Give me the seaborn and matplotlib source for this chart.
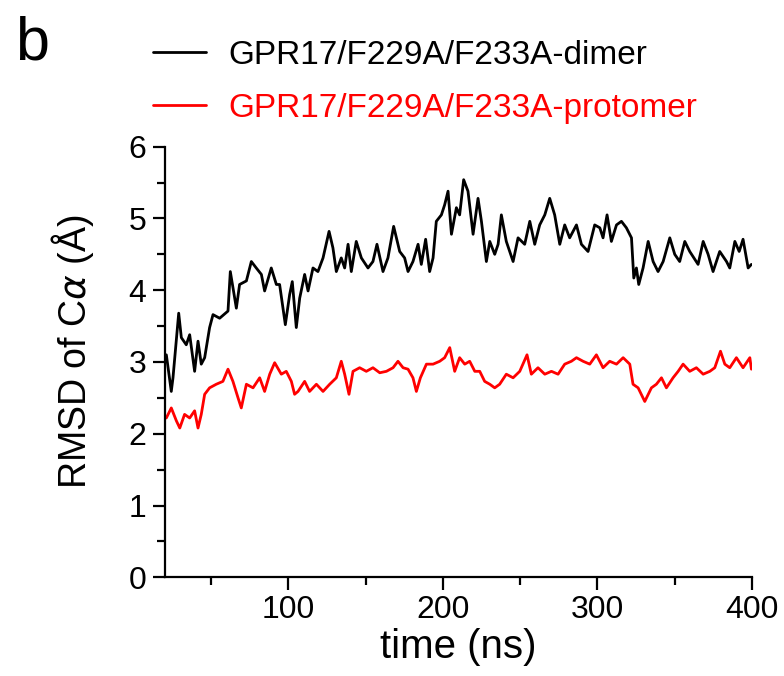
import numpy as np
import pandas as pd
import seaborn as sns
import matplotlib
matplotlib.use('Agg')
import matplotlib.pylab as plt
from matplotlib.ticker import MultipleLocator, FixedLocator

# values (time in ns, RMSD in Angstrom)
time_dimer = [21.1, 24.3, 25.4, 29.1, 30.8, 34.0, 36.2, 39.4, 41.6, 43.7, 45.9, 49.1, 51.3,
              55.6, 61.0, 62.5, 66.4, 68.5, 72.9, 76.1, 79.3, 82.6, 84.7, 89.0, 92.3, 94.4,
              98.1, 100.9, 102.6, 105.2, 107.4, 110.6, 112.8, 116.0, 119.2, 122.5, 126.4,
              128.9, 131.1, 134.3, 136.5, 138.7, 140.8, 144.0, 147.3, 151.6, 154.8, 157.4,
              161.3, 164.5, 168.2, 172.1, 175.3, 177.5, 180.7, 184.0, 186.1, 188.9, 191.5,
              193.7, 195.8, 199.1, 201.2, 203.4, 205.6, 208.8, 210.9, 213.5, 216.3, 219.6,
              222.8, 225.0, 228.2, 230.4, 233.6, 235.8, 237.9, 241.1, 245.5, 248.7, 253.0,
              256.3, 259.5, 262.7, 266.0, 269.2, 272.4, 275.7, 278.9, 282.1, 286.5, 289.7,
              294.0, 297.2, 298.3, 301.6, 303.7, 306.3, 309.1, 312.4, 315.6, 318.8, 322.1,
              323.6, 325.3, 326.8, 329.6, 332.9, 336.1, 339.3, 342.6, 346.9, 350.1, 353.3,
              356.6, 359.8, 365.2, 368.5, 371.7, 374.9, 379.2, 383.6, 385.7, 389.0, 391.8,
              394.3, 397.6, 399.7]
rmsd_dimer = [3.10, 2.59, 2.78, 3.68, 3.34, 3.24, 3.38, 2.87, 3.29, 2.97, 3.06, 3.48, 3.66,
              3.61, 3.71, 4.26, 3.75, 4.08, 4.13, 4.40, 4.31, 4.22, 3.99, 4.31, 4.08, 4.08,
              3.52, 3.94, 4.12, 3.48, 3.89, 4.22, 3.99, 4.31, 4.26, 4.45, 4.82,
              4.59, 4.26, 4.45, 4.31, 4.64, 4.26, 4.68, 4.45, 4.31, 4.40, 4.64,
              4.26, 4.45, 4.89, 4.54, 4.45, 4.26, 4.40, 4.64, 4.36, 4.71, 4.26,
              4.45, 4.96, 5.05, 5.19, 5.38, 4.78, 5.15, 5.05, 5.54, 5.38, 4.78,
              5.28, 4.96, 4.40, 4.68, 4.50, 4.64, 5.05, 4.68, 4.40, 4.73, 4.64,
              4.96, 4.64, 4.91, 5.05, 5.28, 5.05, 4.64, 4.91, 4.73, 4.91, 4.64,
              4.54, 4.82, 4.91, 4.87, 4.73, 5.05, 4.68, 4.91, 4.96, 4.87, 4.73,
              4.17, 4.31, 4.08, 4.31, 4.68, 4.40, 4.26, 4.40, 4.73, 4.50, 4.40,
              4.68, 4.54, 4.36, 4.68, 4.50, 4.26, 4.54, 4.40, 4.31, 4.68, 4.54,
              4.71, 4.31, 4.36]

time_protomer = [21.1, 24.3, 27.6, 29.8, 32.9, 36.2, 39.4, 41.6, 43.7, 45.9, 49.1, 53.4, 57.7,
                 61.0, 64.2, 67.5, 69.6, 72.9, 77.2, 81.5, 84.7, 88.0, 91.2, 95.5, 98.7,
                 102.0, 104.1, 106.3, 110.6, 113.8, 118.2, 122.5, 126.8, 131.1, 134.3, 136.5,
                 139.3, 141.9, 146.2, 150.5, 154.8, 159.2, 163.5, 167.8, 171.0, 174.3, 177.5,
                 180.7, 182.9, 185.5, 189.4, 193.7, 198.0, 201.2, 204.5, 207.7, 210.9, 214.2,
                 217.4, 220.7, 223.9, 227.1, 230.4, 233.6, 236.8, 241.1, 245.5, 249.8, 254.5,
                 257.3, 261.6, 266.0, 270.3, 274.6, 278.9, 283.2, 286.5, 290.8, 295.1, 299.4,
                 303.7, 308.0, 312.4, 316.7, 321.0, 323.1, 326.4, 330.7, 335.0, 338.2, 341.5,
                 344.7, 349.0, 352.3, 355.5, 359.8, 364.1, 368.5, 372.8, 376.0, 379.7, 382.5,
                 385.7, 390.0, 394.3, 398.7, 399.7]
rmsd_protomer = [2.22, 2.36, 2.18, 2.08, 2.27, 2.22, 2.32, 2.08, 2.27, 2.55, 2.64, 2.69, 2.73,
                 2.90, 2.73, 2.50, 2.36, 2.69, 2.64, 2.78, 2.59, 2.83, 2.99, 2.83, 2.87,
                 2.73, 2.55, 2.59, 2.73, 2.59, 2.69, 2.59, 2.69, 2.78, 3.01, 2.83,
                 2.55, 2.87, 2.92, 2.87, 2.92, 2.85, 2.87, 2.92, 3.01, 2.92, 2.90,
                 2.78, 2.59, 2.78, 2.97, 2.97, 3.01, 3.06, 3.20, 2.87, 3.06, 2.97,
                 3.01, 2.87, 2.87, 2.73, 2.69, 2.64, 2.69, 2.83, 2.78, 2.87, 3.10,
                 2.83, 2.92, 2.83, 2.87, 2.83, 2.97, 3.01, 3.06, 3.01, 2.97, 3.10,
                 2.92, 3.01, 2.97, 3.06, 2.97, 2.69, 2.64, 2.45, 2.64, 2.69, 2.78,
                 2.64, 2.78, 2.87, 2.97, 2.87, 2.92, 2.83, 2.87, 2.92, 3.15, 2.97,
                 2.92, 3.06, 2.92, 3.06, 2.90]

label_dimer = 'GPR17/F229A/F233A-dimer'
label_protomer = 'GPR17/F229A/F233A-protomer'

sns.set_style('ticks')
plt.rcParams['font.family'] = ['Liberation Sans', 'DejaVu Sans']
plt.rcParams['text.color'] = 'black'
plt.rcParams['axes.labelcolor'] = 'black'

df_d = pd.DataFrame({'time': time_dimer, 'rmsd': rmsd_dimer})
df_p = pd.DataFrame({'time': time_protomer, 'rmsd': rmsd_protomer})

fig = plt.figure(figsize=(7.84, 6.76), dpi=100)
ax = fig.add_axes([0.210, 0.146, 0.749, 0.637])

sns.lineplot(data=df_d, x='time', y='rmsd', color='black', lw=2.0, ax=ax, label=label_dimer)
sns.lineplot(data=df_p, x='time', y='rmsd', color='#ff0000', lw=2.0, ax=ax, label=label_protomer)

ax.set_xlim(20, 400)
ax.set_ylim(0, 6)
ax.xaxis.set_major_locator(FixedLocator([100, 200, 300, 400]))
ax.xaxis.set_minor_locator(FixedLocator([50, 150, 250, 350]))
ax.yaxis.set_major_locator(MultipleLocator(1))
ax.yaxis.set_minor_locator(MultipleLocator(0.5))

for s in ['top', 'right']:
	ax.spines[s].set_visible(False)
for s in ['left', 'bottom']:
	ax.spines[s].set_linewidth(1.6)
	ax.spines[s].set_color('black')

ax.tick_params(which='major', direction='out', length=9, width=1.6, labelsize=23, colors='black', pad=4)
ax.tick_params(which='minor', direction='out', length=5.5, width=1.6, colors='black')

ax.set_xlabel('time (ns)', fontsize=29, labelpad=2)
ax.set_ylabel('RMSD of C$\\alpha$ (\u00c5)', fontsize=27)
ax.yaxis.set_label_coords(-0.117, 0.523)

leg = ax.legend(loc='upper left', bbox_to_anchor=(153/784, 1 - 40/676), bbox_transform=fig.transFigure,
                frameon=False, fontsize=24, handlelength=1.6, handletextpad=0.65,
                labelspacing=0.65, borderpad=0, borderaxespad=0, labelcolor='linecolor')
for h in leg.get_lines():
	h.set_linewidth(2.0)

fig.text(15/784, 1 - 16/676, 'b', fontsize=44, va='top', ha='left')

fig.savefig('out.png', dpi=100)
plt.close()
